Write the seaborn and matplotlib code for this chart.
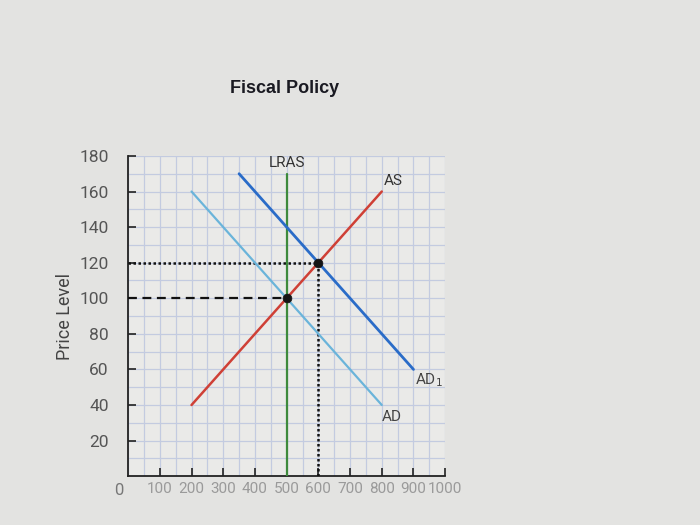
import numpy as np
import pandas as pd
import seaborn as sns
import matplotlib.pyplot as plt

# curve end points (quantity, price level)
as_q = [200, 800]
as_p = [40, 160]
ad_q = [200, 800]
ad_p = [160, 40]
ad1_q = [350, 900]
ad1_p = [170, 60]
lras_q = [500, 500]
lras_p = [0, 170]

# equilibria
eq_q = [500, 600]
eq_p = [100, 120]

y_ticks = [20, 40, 60, 80, 100, 120, 140, 160, 180]
x_ticks = [100, 200, 300, 400, 500, 600, 700, 800, 900, 1000]

sns.set_theme(style="white")
plt.rcParams['font.family'] = ['Roboto', 'DejaVu Sans']

fig = plt.figure(figsize=(7, 5.25), dpi=100, facecolor="#e3e3e1")
ax = fig.add_axes([0.183, 0.093, 0.453, 0.61])
ax.set_facecolor("#eaeae8")

# grid
for gx in range(0, 1001, 50):
    ax.axvline(gx, color="#c3cbe0", lw=0.9, zorder=0)
for gy in range(0, 181, 10):
    ax.axhline(gy, color="#c3cbe0", lw=0.9, zorder=0)

# reference lines
ax.plot([0, eq_q[0]], [eq_p[0], eq_p[0]], color="#111111", ls=(0, (4, 2.5)), lw=1.6, zorder=3)
ax.plot([0, eq_q[1]], [eq_p[1], eq_p[1]], color="#111111", ls=(0, (1, 1)), lw=1.8, zorder=3)
ax.plot([eq_q[1], eq_q[1]], [0, eq_p[1]], color="#111111", ls=(0, (1, 1)), lw=1.8, zorder=3)

curve_kw = dict(ax=ax, sort=False, estimator=None, zorder=4)
sns.lineplot(x=lras_q, y=lras_p, color="#3e8a3c", lw=1.6, **curve_kw)
sns.lineplot(x=as_q, y=as_p, color="#cf4036", lw=1.8, **curve_kw)
sns.lineplot(x=ad_q, y=ad_p, color="#6ab4da", lw=1.6, **curve_kw)
sns.lineplot(x=ad1_q, y=ad1_p, color="#2a6cc8", lw=2.0, **curve_kw)
sns.scatterplot(x=eq_q, y=eq_p, ax=ax, color="#151515", s=40, zorder=5, edgecolor="#151515")

# curve labels
ax.text(lras_q[1], lras_p[1] + 2, "LRAS", ha="center", va="bottom", fontsize=11, color="#333333")
ax.text(as_q[1] + 5, as_p[1] + 2, "AS", ha="left", va="bottom", fontsize=11, color="#333333")
ax.text(ad_q[1], ad_p[1] - 3, "AD", ha="left", va="top", fontsize=11, color="#444444")
ax.text(ad1_q[1] + 5, ad1_p[1] - 1, "AD$_1$", ha="left", va="top", fontsize=11, color="#444444")

ax.set_xlim(0, 1000)
ax.set_ylim(0, 180)
ax.set_xticks(x_ticks)
ax.set_yticks(y_ticks)
ax.set_xticklabels([str(v) for v in x_ticks], fontsize=11, color="#9a9a9a")
ax.set_yticklabels([str(v) for v in y_ticks], fontsize=12.5, color="#555555")
ax.tick_params(axis="both", direction="in", length=6, width=1.2, color="#222222",
               bottom=True, left=True, pad=4)
ax.tick_params(axis="y", pad=14)
ax.text(-30, -4, "0", ha="center", va="top", fontsize=12, color="#777777")

for side in ["top", "right"]:
    ax.spines[side].set_visible(False)
for side in ["left", "bottom"]:
    ax.spines[side].set_color("#222222")
    ax.spines[side].set_linewidth(1.3)

ax.set_ylabel("Price Level", fontsize=13, color="#444444", labelpad=4)
fig.text(0.407, 0.832, "Fiscal Policy", ha="center", va="center", fontsize=13,
         fontweight="bold", color="#1a1a22", family=["Liberation Sans", "DejaVu Sans"])

fig.savefig("out.png", dpi=100, facecolor=fig.get_facecolor())
